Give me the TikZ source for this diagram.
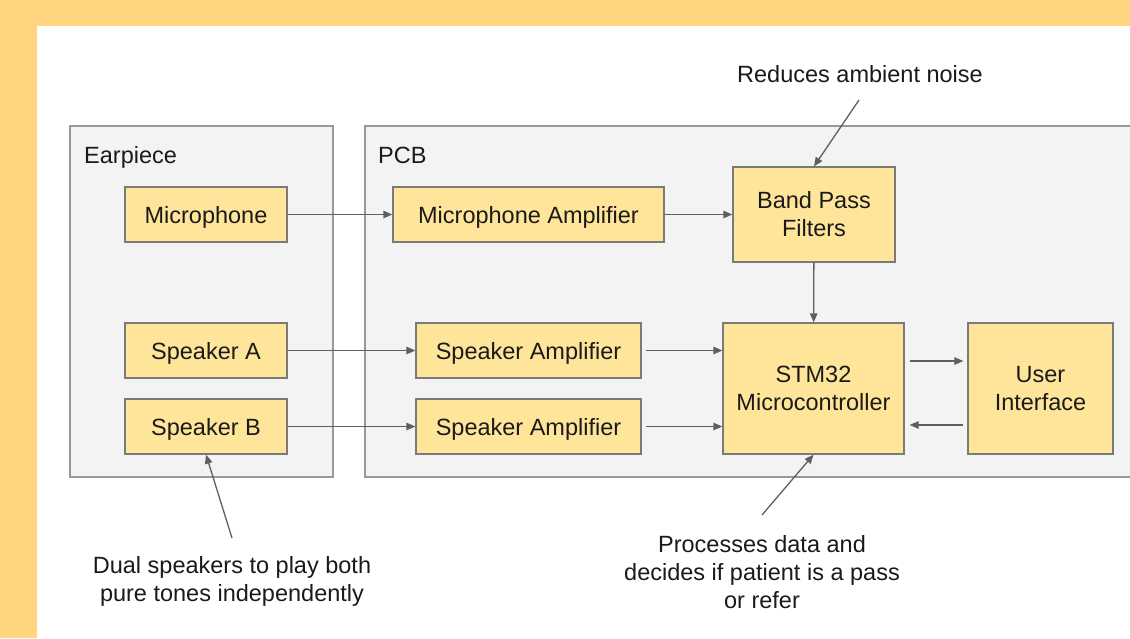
\documentclass[tikz,border=0pt]{standalone}
\usepackage{fontspec}
\setmainfont{Liberation Sans}
\usetikzlibrary{arrows.meta}
\definecolor{bgorange}{HTML}{FFD580}
\definecolor{boxyellow}{HTML}{FFE599}
\definecolor{panelgray}{HTML}{F3F3F3}
\definecolor{edgegray}{HTML}{999999}
\definecolor{arrowgray}{HTML}{5F5F5F}
\definecolor{inkblack}{HTML}{1A1A1A}
\tikzset{
  panel/.style={draw=edgegray,fill=panelgray,line width=1.3pt},
  blk/.style={draw=edgegray!80!black,fill=boxyellow,line width=1.3pt,inner sep=0pt,align=center,text=inkblack},
  oneline/.style={text depth=0pt},
  note/.style={inner sep=0pt,align=center,text=inkblack},
  arr/.style={draw=arrowgray,line width=1.3pt,-{Triangle[length=9pt,width=7.5pt]}}
}
\begin{document}
\begin{tikzpicture}[x=1pt,y=-1pt,font=\fontsize{23.5}{28}\selectfont]
    % pixel grid of the sketch, y going down
    \useasboundingbox (0,0) rectangle (1130,638);
    \fill[bgorange] (0,0) rectangle (1130,638);
    \fill[white] (37,26) rectangle (1130,638);
    \draw[panel] (70,126) rectangle (333,477);
    \draw[panel] (365,126) rectangle (1140,477);
    \node[note,oneline,anchor=west] (earlbl) at (84,155) {Earpiece};
    \node[note,oneline,anchor=west] (pcblbl) at (378,155) {PCB};
    % blocks
    \node[blk,oneline,minimum width=162,minimum height=55] (mic) at (206,214.5) {Microphone};
    \node[blk,oneline,minimum width=271,minimum height=55] (micamp) at (528.5,214.5) {Microphone Amplifier};
    \node[blk,minimum width=162,minimum height=95] (bpf) at (814,214.5) {Band Pass\\Filters};
    \node[blk,oneline,minimum width=162,minimum height=55] (spka) at (206,350.5) {Speaker A};
    \node[blk,oneline,minimum width=162,minimum height=55] (spkb) at (206,426.5) {Speaker B};
    \node[blk,oneline,minimum width=225,minimum height=55] (ampa) at (528.5,350.5) {Speaker Amplifier};
    \node[blk,oneline,minimum width=225,minimum height=55] (ampb) at (528.5,426.5) {Speaker Amplifier};
    \node[blk,minimum width=181,minimum height=131] (mcu) at (813.5,388.5) {STM32\\Microcontroller};
    \node[blk,minimum width=145,minimum height=131] (ui) at (1040.5,388.5) {User\\Interface};
    % notes
    \node[note,oneline] (noisenote) at (860,74) {Reduces ambient noise};
    \node[note] (mcunote) at (762,572) {Processes data and\\decides if patient is a pass\\or refer};
    \node[note] (spknote) at (232,581) {Dual speakers to play both\\pure tones independently};
    \coordinate (noisetail) at (859,100);
    \coordinate (mcutail) at (762,515);
    \coordinate (spktail) at (232,538);
    % connectors
    \foreach \a/\b in {mic/micamp,micamp/bpf,bpf/mcu,spka/ampa,spkb/ampb}{\draw[arr] (\a) -- (\b);};
    \draw[arr,shorten <=4pt] (ampa.east) -- (mcu.west |- ampa.east);
    \draw[arr,shorten <=4pt] (ampb.east) -- (mcu.west |- ampb.east);
    \draw[arr,shorten <=5pt,shorten >=4pt] ([yshift=27.5pt]mcu.east) -- ([yshift=27.5pt]mcu.east -| ui.west);
    \draw[arr,shorten <=4pt,shorten >=5pt] ([yshift=-36.5pt]mcu.east -| ui.west) -- ([yshift=-36.5pt]mcu.east);
    \draw[arr] (noisetail) -- (bpf.north);
    \draw[arr] (mcutail) -- (mcu.south);
    \draw[arr] (spktail) -- (spkb.south);
\end{tikzpicture}
\end{document}
